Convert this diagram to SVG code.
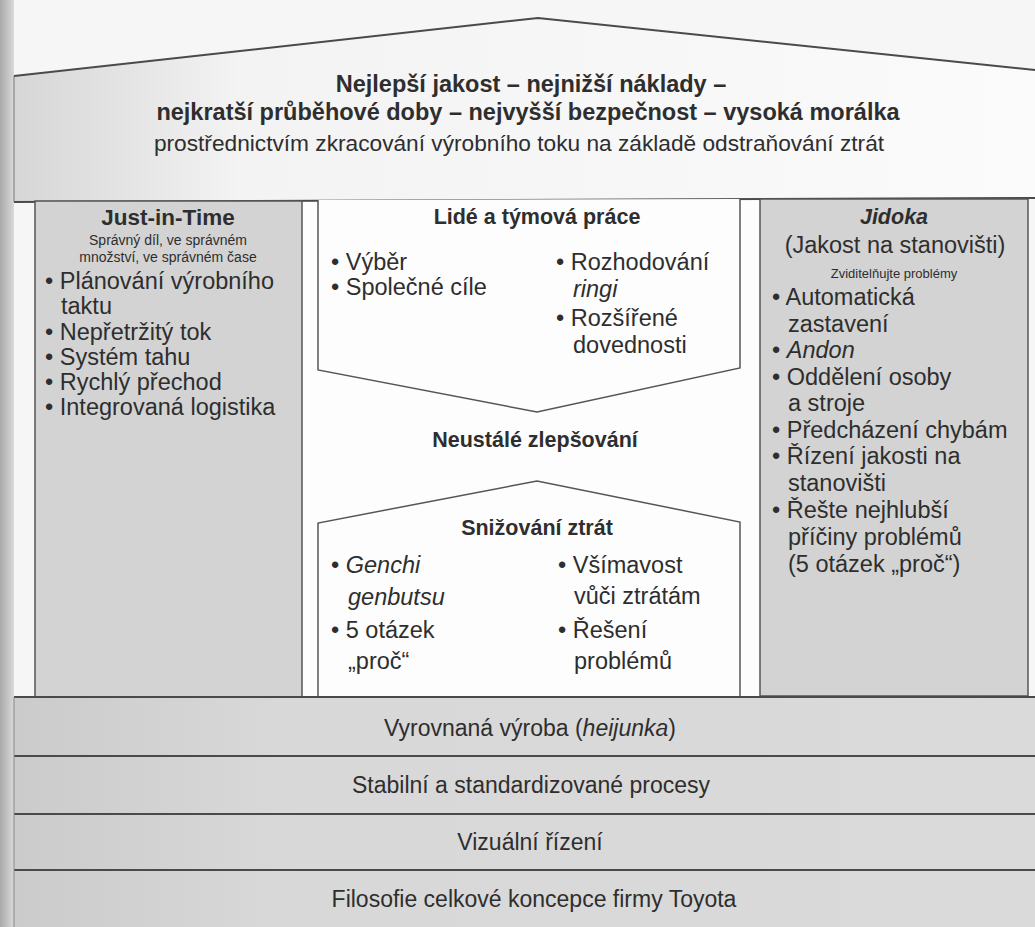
<svg xmlns="http://www.w3.org/2000/svg" width="1035" height="927" viewBox="0 0 1035 927">
  <defs>
    <linearGradient id="binding" x1="0" x2="1" y1="0" y2="0">
      <stop offset="0" stop-color="#a9a9a9"/>
      <stop offset="1" stop-color="#d9d9d9"/>
    </linearGradient>
    <linearGradient id="roofShade" x1="0" x2="1" y1="0" y2="0">
      <stop offset="0" stop-color="#d6d6d6"/>
      <stop offset="0.22" stop-color="#f3f3f3"/>
      <stop offset="1" stop-color="#fbfbfb"/>
    </linearGradient>
    <linearGradient id="bandShade" x1="0" x2="1" y1="0" y2="0">
      <stop offset="0" stop-color="#cbcbcb"/>
      <stop offset="0.25" stop-color="#d8d8d8"/>
      <stop offset="1" stop-color="#dadada"/>
    </linearGradient>
  </defs>
  <style>
    text { font-family: "Liberation Sans", Arial, sans-serif; fill: #2e2e2e; }
    .c { text-anchor: middle; }
    .i { font-style: italic; }
    .roof1 { font-size: 23.5px; font-weight: bold; }
    .roof2 { font-size: 22.7px; }
    .head { font-size: 21.5px; font-weight: bold; }
    .sub { font-size: 14px; }
    .item { font-size: 23.5px; }
    .band-label { font-size: 23px; }
    .pillar { fill: #d3d3d3; stroke: #555; stroke-width: 1.5; }
    .inner { fill: #fdfdfd; stroke: #555; stroke-width: 1.5; }
    .band { fill: url(#bandShade); }
    .rule { stroke: #4a4a4a; stroke-width: 2; fill: none; }
  </style>

  <!-- page -->
  <rect x="0" y="0" width="1035" height="927" fill="#f6f6f6"/>
  <rect x="0" y="0" width="14" height="927" fill="url(#binding)"/>
  <rect x="302" y="199" width="458" height="498" fill="#fdfdfd"/>

  <!-- roof -->
  <g id="roof">
    <polygon points="14,76 538,18 1035,70 1035,198 14,202" fill="url(#roofShade)"/>
    <polyline class="rule" points="14,76 538,18 1035,70"/>
    <line class="rule" x1="14" y1="202" x2="1035" y2="198"/>
    <line x1="14" y1="76" x2="14" y2="202" stroke="#777" stroke-width="1"/>
    <text class="c roof1" x="531" y="92">Nejlepší jakost – nejnižší náklady –</text>
    <text class="c roof1" x="528" y="120">nejkratší průběhové doby – nejvyšší bezpečnost – vysoká morálka</text>
    <text class="c roof2" x="519" y="151">prostřednictvím zkracování výrobního toku na základě odstraňování ztrát</text>
  </g>

  <!-- left pillar -->
  <g id="just-in-time">
    <rect class="pillar" x="35" y="201" width="267" height="496"/>
    <text class="c head" x="168" y="225" style="font-size:22.5px">Just-in-Time</text>
    <text class="c sub" x="168" y="245">Správný díl, ve správném</text>
    <text class="c sub" x="168" y="262">množství, ve správném čase</text>
    <text class="item" x="45" y="289">• Plánování výrobního</text>
    <text class="item" x="61" y="314">taktu</text>
    <text class="item" x="45" y="340">• Nepřetržitý tok</text>
    <text class="item" x="45" y="365">• Systém tahu</text>
    <text class="item" x="45" y="390">• Rychlý přechod</text>
    <text class="item" x="45" y="415">• Integrovaná logistika</text>
  </g>

  <!-- right pillar -->
  <g id="jidoka">
    <rect class="pillar" x="760" y="199" width="268" height="497"/>
    <text class="c head i" x="894" y="224">Jidoka</text>
    <text class="c item" x="895" y="253">(Jakost na stanovišti)</text>
    <text class="c sub" x="894" y="278" style="font-size:13px">Zviditelňujte problémy</text>
    <text class="item" x="772" y="305">• Automatická</text>
    <text class="item" x="788" y="332">zastavení</text>
    <text class="item" x="772" y="358">• <tspan class="i">Andon</tspan></text>
    <text class="item" x="772" y="385">• Oddělení osoby</text>
    <text class="item" x="788" y="411">a stroje</text>
    <text class="item" x="772" y="438">• Předcházení chybám</text>
    <text class="item" x="772" y="464">• Řízení jakosti na</text>
    <text class="item" x="788" y="491">stanovišti</text>
    <text class="item" x="772" y="518">• Řešte nejhlubší</text>
    <text class="item" x="788" y="545">příčiny problémů</text>
    <text class="item" x="788" y="572">(5 otázek „proč“)</text>
  </g>

  <!-- people and teamwork -->
  <g id="people-teamwork">
    <path class="inner" d="M318,200 V370 L537,412 L740,368 V199"/>
    <text class="c head" x="537" y="224">Lidé a týmová práce</text>
    <text class="item" x="331" y="270">• Výběr</text>
    <text class="item" x="331" y="295">• Společné cíle</text>
    <text class="item" x="556" y="270">• Rozhodování</text>
    <text class="item i" x="573" y="297">ringi</text>
    <text class="item" x="556" y="326">• Rozšířené</text>
    <text class="item" x="573" y="353">dovednosti</text>
  </g>

  <!-- continuous improvement -->
  <g id="continuous-improvement">
    <text class="c head" x="535" y="447">Neustálé zlepšování</text>
  </g>

  <!-- waste reduction -->
  <g id="waste-reduction">
    <path class="inner" d="M318,697 V523 L537,481 L740,522 V697"/>
    <text class="c head" x="537" y="535">Snižování ztrát</text>
    <text class="item" x="331" y="573">• <tspan class="i">Genchi</tspan></text>
    <text class="item i" x="348" y="605">genbutsu</text>
    <text class="item" x="331" y="638">• 5 otázek</text>
    <text class="item" x="348" y="669">„proč“</text>
    <text class="item" x="558" y="573">• Všímavost</text>
    <text class="item" x="574" y="604">vůči ztrátám</text>
    <text class="item" x="558" y="638">• Řešení</text>
    <text class="item" x="574" y="669">problémů</text>
  </g>

  <!-- foundation layers -->
  <g id="heijunka">
    <rect class="band" x="14" y="697" width="1021" height="59"/>
    <text class="c band-label" x="530" y="736">Vyrovnaná výroba (<tspan class="i">heijunka</tspan>)</text>
  </g>
  <g id="standard-processes">
    <rect class="band" x="14" y="756" width="1021" height="58"/>
    <text class="c band-label" x="531" y="793">Stabilní a standardizované procesy</text>
  </g>
  <g id="visual-control">
    <rect class="band" x="14" y="814" width="1021" height="56"/>
    <text class="c band-label" x="530" y="850">Vizuální řízení</text>
  </g>
  <g id="philosophy">
    <rect class="band" x="14" y="870" width="1021" height="57"/>
    <text class="c band-label" x="534" y="907">Filosofie celkové koncepce firmy Toyota</text>
  </g>

  <!-- layer edges -->
  <g id="connectors">
    <line class="rule" x1="14" y1="697" x2="1035" y2="697"/>
    <line class="rule" x1="14" y1="756" x2="1035" y2="756"/>
    <line class="rule" x1="14" y1="814" x2="1035" y2="814"/>
    <line class="rule" x1="14" y1="870" x2="1035" y2="870"/>
    <line x1="14" y1="697" x2="14" y2="927" stroke="#888" stroke-width="1"/>
  </g>
</svg>
